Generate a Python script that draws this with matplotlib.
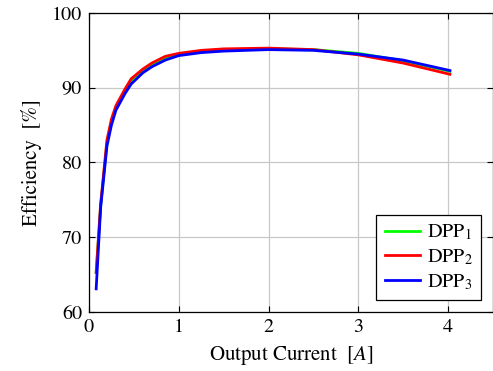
import matplotlib
matplotlib.use("Agg")
import matplotlib.pyplot as plt

# output current [A]
current = [0.08, 0.13, 0.2, 0.25, 0.3, 0.4, 0.47, 0.6, 0.7, 0.85, 1.0, 1.25, 1.5, 2.0, 2.5, 3.0, 3.5, 4.02]

# efficiency [%]
dpp1 = [65.3, 74.2, 82.6, 85.4, 87.3, 89.5, 90.9, 92.3, 93.1, 93.9, 94.4, 94.8, 95.0, 95.2, 95.1, 94.6, 93.6, 92.2]
dpp2 = [65.3, 74.5, 83.0, 85.8, 87.6, 89.8, 91.2, 92.5, 93.3, 94.2, 94.6, 95.0, 95.2, 95.3, 95.1, 94.4, 93.3, 91.8]
dpp3 = [63.1, 74.0, 82.2, 85.0, 87.0, 89.2, 90.5, 92.0, 92.8, 93.7, 94.3, 94.7, 94.9, 95.1, 95.0, 94.5, 93.7, 92.3]

plt.rcParams['font.family'] = ['STIXGeneral', 'DejaVu Serif']
plt.rcParams['mathtext.fontset'] = 'stix'

fig = plt.figure(figsize=(4.93, 3.71), dpi=100)
ax = fig.add_axes([0.1805, 0.159, 0.8195, 0.806])

ax.plot(current, dpp1, color='#00ff00', lw=2, label='DPP$_1$')
ax.plot(current, dpp2, color='#ff0000', lw=2, label='DPP$_2$')
ax.plot(current, dpp3, color='#0000ff', lw=2, label='DPP$_3$')

ax.set_xlim(0, 4.5)
ax.set_ylim(60, 100)
ax.set_xticks([0, 1, 2, 3, 4])
ax.set_yticks([60, 70, 80, 90, 100])
ax.grid(True, color='#c8c8c8', lw=0.9)
ax.set_axisbelow(True)
ax.tick_params(direction='in', top=True, right=True, length=4, labelsize=14.5, pad=5)
for s in ax.spines.values():
    s.set_linewidth(0.9)

ax.set_xlabel('Output Current  [$A$]', fontsize=15, labelpad=6)
ax.set_ylabel('Efficiency  [%]', fontsize=15, labelpad=7)

leg = ax.legend(loc='lower right', fontsize=14.5, fancybox=False, framealpha=1,
                edgecolor='black', handlelength=1.75, handletextpad=0.35,
                borderaxespad=0.6, labelspacing=0.25)
leg.get_frame().set_linewidth(0.9)

fig.savefig('out.png', dpi=100)
